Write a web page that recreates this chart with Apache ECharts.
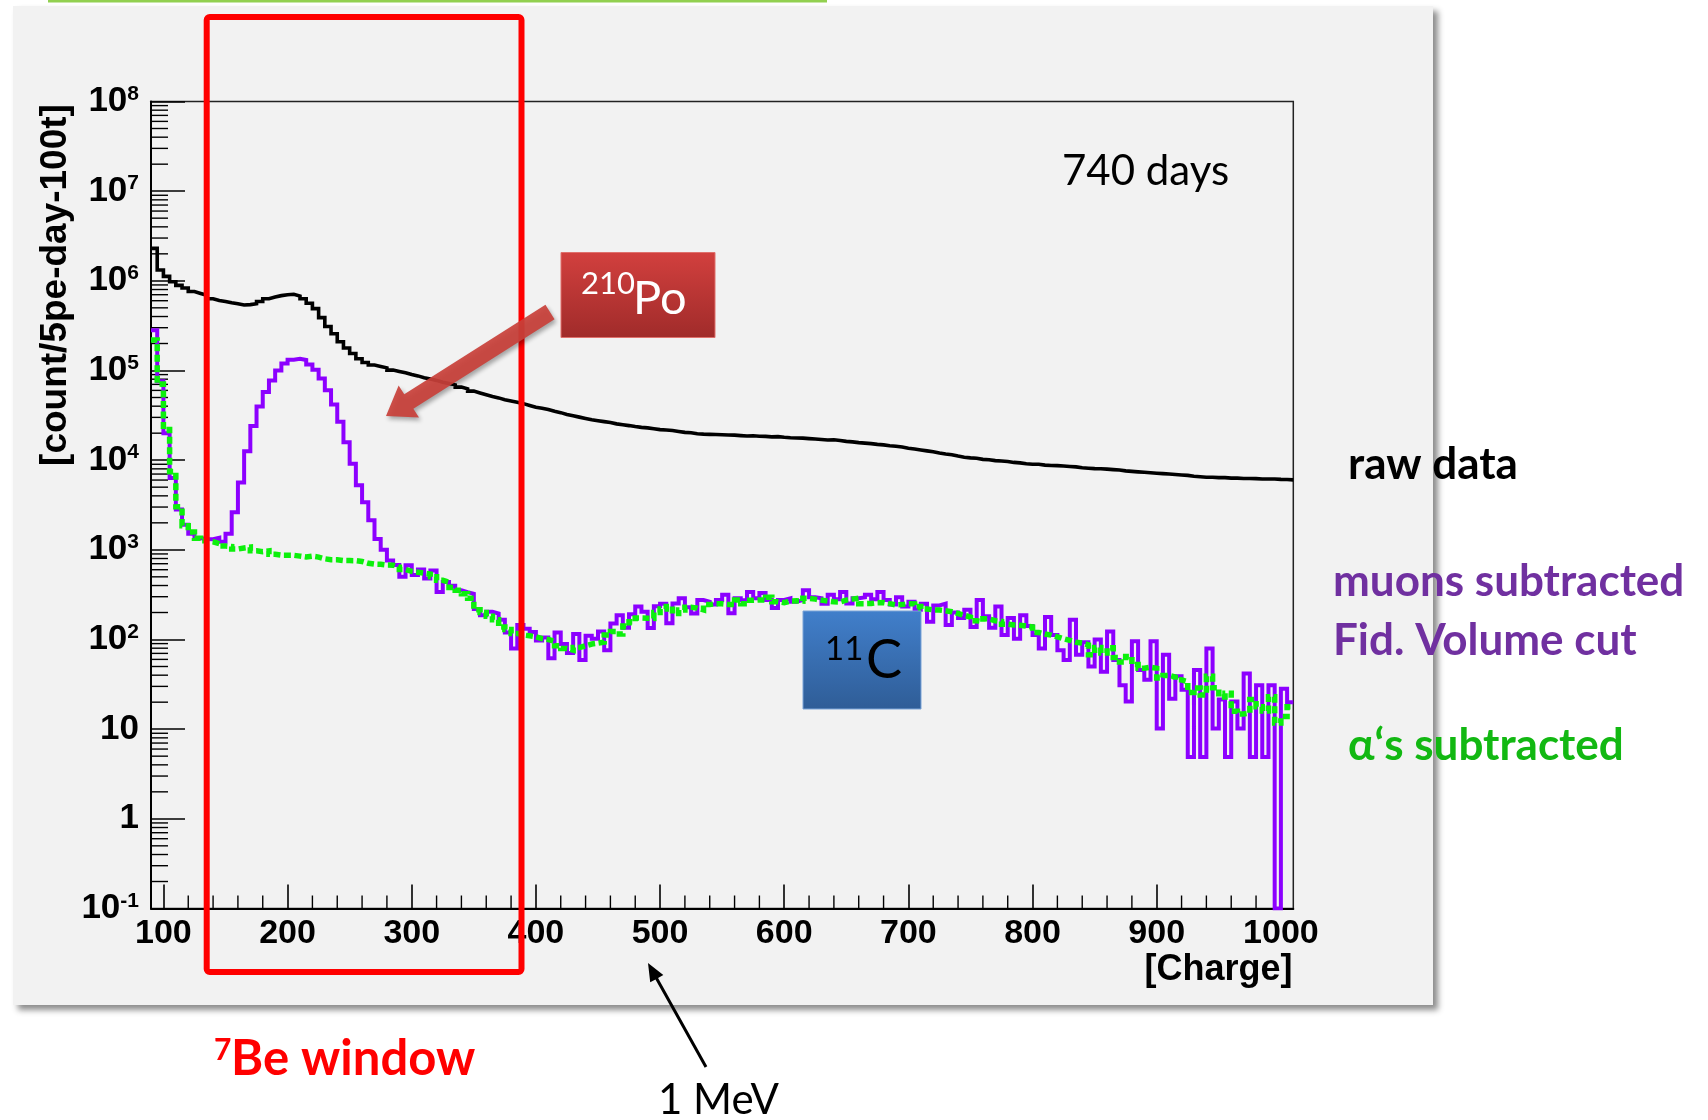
<!DOCTYPE html>
<html lang="en">
<head>
<meta charset="utf-8">
<title>Charge spectrum – 740 days</title>
<script src="https://cdn.jsdelivr.net/npm/echarts@6.0.0/dist/echarts.min.js"></script>
<style>
  html, body { margin: 0; padding: 0; background: #ffffff; }
  #chart { width: 1708px; height: 1120px; }
</style>
</head>
<body>
<div id="chart"></div>
<script>
// ---- histogram binning (charge) ----
const BIN_START = 90;   // lower edge of first bin
const BIN_WIDTH = 5;    // 5 pe per bin
const X_MIN = 90;
const X_MAX = 1010;
const Y_MIN = 0.1;
const Y_MAX = 1e8;

// ---- axis ticks ----
const xTickLabels = [100, 200, 300, 400, 500, 600, 700, 800, 900, 1000];
const xMinorStep = 20;
const yMinorMultipliers = [2, 3, 4, 5, 6, 7, 8, 9];

// ---- counts per bin [count/5pe-day-100t], one row = 50 charge units ----
const rawData = [
  2.3e6, 1.32e6, 1.12e6, 9.77e5, 8.91e5, 8.32e5, 7.59e5, 7.24e5, 6.92e5, 6.31e5,   // 90-140
  6.03e5, 5.89e5, 5.69e5, 5.56e5, 5.37e5, 5.43e5, 5.56e5, 5.89e5, 6.31e5, 6.61e5,  // 140-190
  6.84e5, 7.00e5, 7.08e5, 6.76e5, 6.31e5, 5.62e5, 4.90e5, 3.89e5, 3.09e5, 2.57e5,  // 190-240
  2.09e5, 1.78e5, 1.55e5, 1.35e5, 1.23e5, 1.15e5, 1.11e5, 1.07e5, 1.01e5, 9.77e4,  // 240-290
  9.44e4, 9.02e4, 8.71e4, 8.32e4, 8.04e4, 7.76e4, 7.41e4, 7.16e4, 6.92e4, 6.53e4,  // 290-340
  6.24e4, 5.89e4, 5.62e4, 5.37e4, 5.13e4, 4.95e4, 4.73e4, 4.57e4, 4.42e4, 4.27e4,  // 340-390
  4.07e4, 3.89e4, 3.80e4, 3.67e4, 3.51e4, 3.39e4, 3.24e4, 3.13e4, 3.02e4, 2.92e4,  // 390-440
  2.82e4, 2.75e4, 2.69e4, 2.63e4, 2.54e4, 2.48e4, 2.43e4, 2.37e4, 2.32e4, 2.29e4,  // 440-490
  2.24e4, 2.19e4, 2.17e4, 2.14e4, 2.09e4, 2.04e4, 2.02e4, 1.97e4, 1.95e4, 1.94e4,  // 490-540
  1.93e4, 1.92e4, 1.91e4, 1.90e4, 1.88e4, 1.86e4, 1.87e4, 1.85e4, 1.84e4, 1.82e4,  // 540-590
  1.83e4, 1.80e4, 1.78e4, 1.77e4, 1.76e4, 1.74e4, 1.72e4, 1.70e4, 1.68e4, 1.69e4,  // 590-640
  1.66e4, 1.62e4, 1.60e4, 1.57e4, 1.55e4, 1.53e4, 1.50e4, 1.48e4, 1.45e4, 1.43e4,  // 640-690
  1.40e4, 1.36e4, 1.33e4, 1.30e4, 1.27e4, 1.24e4, 1.20e4, 1.17e4, 1.15e4, 1.11e4,  // 690-740
  1.08e4, 1.06e4, 1.05e4, 1.02e4, 1.01e4, 9.89e3, 9.77e3, 9.66e3, 9.44e3, 9.33e3,  // 740-790
  9.12e3, 9.02e3, 9.00e3, 8.81e3, 8.71e3, 8.70e3, 8.61e3, 8.51e3, 8.41e3, 8.22e3,  // 790-840
  8.13e3, 8.04e3, 8.03e3, 7.94e3, 7.85e3, 7.76e3, 7.59e3, 7.50e3, 7.41e3, 7.33e3,  // 840-890
  7.24e3, 7.16e3, 7.08e3, 7.00e3, 6.92e3, 6.84e3, 6.76e3, 6.61e3, 6.53e3, 6.46e3,  // 890-940
  6.45e3, 6.38e3, 6.39e3, 6.31e3, 6.30e3, 6.24e3, 6.25e3, 6.23e3, 6.17e3, 6.16e3,  // 940-990
  6.17e3, 6.10e3, 6.09e3, 6.03e3                                                   // 990-1010
];

const muonsFvCut = [
  2.82e5, 7.59e4, 2.0e4, 6.31e3, 2.82e3, 1.91e3, 1.51e3, 1.35e3, 1.32e3, 1.31e3,   // 90-140
  1.36e3, 1.23e3, 1.51e3, 2.63e3, 5.62e3, 1.26e4, 2.40e4, 3.98e4, 5.75e4, 7.76e4,  // 140-190
  1.00e5, 1.20e5, 1.32e5, 1.35e5, 1.31e5, 1.17e5, 1.02e5, 8.13e4, 6.03e4, 4.17e4,  // 190-240
  2.69e4, 1.58e4, 9.12e3, 5.25e3, 3.39e3, 2.14e3, 1.32e3, 1.00e3, 759, 676,        // 240-290
  501, 675, 525, 603, 479, 589, 339, 437, 398, 355,                                // 290-340
  338, 324, 219, 186, 204, 195, 166, 120, 79.4, 145,                               // 340-390
  132, 121, 97.7, 105, 61.7, 120, 89.1, 70.8, 115, 58.9,                           // 390-440
  110, 102, 123, 75.9, 151, 186, 135, 191, 234, 204,                               // 440-490
  134, 235, 251, 152, 252, 288, 229, 195, 275, 263,                                // 490-540
  245, 276, 316, 196, 289, 274, 339, 288, 331, 275,                                // 540-590
  224, 276, 288, 263, 275, 355, 295, 289, 251, 316,                                // 590-640
  282, 339, 252, 288, 295, 316, 282, 339, 275, 245,                                // 640-690
  295, 234, 263, 214, 251, 158, 240, 251, 145, 200,                                // 690-740
  174, 214, 138, 275, 182, 135, 234, 112, 174, 102,                                // 740-790
  186, 141, 112, 79.4, 178, 112, 75.9, 58.9, 166, 67.6,                            // 790-840
  93.3, 50.1, 100, 43.7, 123, 58.9, 30.9, 20.4, 95.5, 45.7,                        // 840-890
  35.5, 95.5, 10.2, 67.6, 21.9, 38.9, 27.5, 4.9, 45.7, 4.9,                        // 890-940
  79.4, 10.2, 21.4, 4.9, 20.4, 10.2, 41.7, 4.9, 30.9, 4.9,                         // 940-990
  30.9, 0, 28.2, 20.0                                                              // 990-1010
];

const alphasSubtracted = [
  2.19e5, 7.08e4, 2.2e4, 7.41e3, 3.02e3, 1.86e3, 1.58e3, 1.35e3, 1.26e3, 1.23e3,   // 90-140
  1.17e3, 1.10e3, 1.09e3, 1.02e3, 1.05e3, 1.07e3, 977, 955, 975, 891,              // 140-190
  871, 870, 869, 851, 832, 850, 830, 794, 776, 775,                                // 190-240
  759, 758, 757, 741, 708, 692, 690, 676, 675, 646,                                // 240-290
  603, 575, 562, 550, 537, 501, 457, 437, 380, 355,                                // 290-340
  324, 288, 214, 200, 182, 166, 138, 129, 117, 112,                                // 340-390
  110, 107, 102, 100, 95.5, 85.1, 79.4, 75.9, 81.3, 85,                            // 390-440
  89.1, 91.2, 93.3, 112, 123, 115, 141, 158, 174, 173,                             // 440-490
  172, 200, 219, 234, 195, 213, 229, 224, 214, 245,                                // 490-540
  251, 250, 246, 245, 275, 251, 274, 276, 275, 295,                                // 540-590
  263, 257, 269, 270, 268, 288, 282, 275, 269, 263,                                // 590-640
  262, 275, 282, 288, 251, 252, 257, 258, 251, 243,                                // 640-690
  245, 251, 250, 234, 219, 214, 213, 209, 204, 195,                                // 690-740
  186, 178, 162, 158, 170, 162, 159, 148, 145, 144,                                // 740-790
  141, 138, 120, 115, 112, 107, 102, 97.7, 93.3, 91.2,                             // 790-840
  87.1, 67.6, 81.3, 70.8, 81, 63.1, 56.2, 64.6, 52.5, 47.9,                        // 840-890
  49.0, 47.8, 37.2, 39.8, 38.0, 35.5, 33.9, 25.7, 28.8, 24.0,                      // 890-940
  38.9, 28.9, 22.9, 25.1, 15.8, 14.8, 15.1, 21.4, 17.8, 15.9,                      // 940-990
  23, 11.7, 13.8, 17.8                                                             // 990-1010
];

// ---- helpers ----
// Step outline of a histogram: one point per lower bin edge plus the closing edge.
// Empty bins are drawn down to the floor of the log axis.
function histogramPoints(values) {
  const pts = values.map((v, i) => [BIN_START + i * BIN_WIDTH, v > 0 ? v : Y_MIN]);
  pts.push([BIN_START + values.length * BIN_WIDTH, pts[pts.length - 1][1]]);
  return pts;
}

const xMinorTicks = [];
for (let v = xTickLabels[0]; v <= xTickLabels[xTickLabels.length - 1]; v += xMinorStep) {
  if (xTickLabels.indexOf(v) < 0) xMinorTicks.push(v);
}
const yMinorTicks = [];
for (let e = Math.round(Math.log10(Y_MIN)); e < Math.round(Math.log10(Y_MAX)); e++) {
  yMinorMultipliers.forEach(m => yMinorTicks.push(m * Math.pow(10, e)));
}

function yTickLabel(value) {
  const e = Math.round(Math.log10(value));
  if (e === 0) return '{b|1}';
  if (e === 1) return '{b|10}';
  return '{b|10}{s|' + e + '}';
}

function arrowPolygon(tail, tip, halfShaft, halfHead, headLen) {
  const dx = tip[0] - tail[0], dy = tip[1] - tail[1];
  const len = Math.hypot(dx, dy);
  const ux = dx / len, uy = dy / len, nx = -uy, ny = ux;
  const bx = tip[0] - ux * headLen, by = tip[1] - uy * headLen;
  return [
    [tail[0] + nx * halfShaft, tail[1] + ny * halfShaft],
    [bx + nx * halfShaft, by + ny * halfShaft],
    [bx + nx * halfHead, by + ny * halfHead],
    [tip[0], tip[1]],
    [bx - nx * halfHead, by - ny * halfHead],
    [bx - nx * halfShaft, by - ny * halfShaft],
    [tail[0] - nx * halfShaft, tail[1] - ny * halfShaft]
  ];
}

const AXIS_FONT = 'Liberation Sans, Arial, sans-serif';
const NOTE_FONT = 'Lato, Open Sans, sans-serif';

function note(text, x, y, size, color, weight, align) {
  return {
    type: 'text', x: x, y: y, z: 120,
    style: {
      text: text, fill: color, fontFamily: NOTE_FONT, fontSize: size,
      fontWeight: weight || 'normal',
      align: align || 'left', textAlign: align || 'left',
      verticalAlign: 'middle', textVerticalAlign: 'middle'
    }
  };
}

const chart = echarts.init(document.getElementById('chart'), null, { renderer: 'canvas' });

chart.setOption({
  animation: false,
  backgroundColor: '#ffffff',
  textStyle: { fontFamily: AXIS_FONT },
  grid: {
    left: 151, top: 101.5, right: 414.7, bottom: 211.5,
    show: true, borderColor: '#222222', borderWidth: 1.5,
    backgroundColor: 'transparent',
    containLabel: false, outerBoundsMode: 'none'
  },
  xAxis: {
    type: 'value', min: X_MIN, max: X_MAX,
    axisLine: { onZero: false, lineStyle: { color: '#000', width: 2 } },
    axisTick: {
      inside: true, length: 24, customValues: xTickLabels,
      lineStyle: { color: '#000', width: 1.6 }
    },
    axisLabel: {
      customValues: xTickLabels, margin: 8, hideOverlap: false,
      formatter: v => String(v),
      fontFamily: AXIS_FONT, fontWeight: 'bold', fontSize: 34, color: '#000'
    },
    splitLine: { show: false }
  },
  yAxis: {
    type: 'log', logBase: 10, min: Y_MIN, max: Y_MAX,
    axisLine: { show: true, lineStyle: { color: '#000', width: 2 } },
    axisTick: { show: true, inside: true, length: 34, lineStyle: { color: '#000', width: 1.6 } },
    axisLabel: {
      margin: 12, showMinLabel: true, showMaxLabel: true,
      formatter: yTickLabel,
      rich: {
        b: { fontFamily: AXIS_FONT, fontWeight: 'bold', fontSize: 35, lineHeight: 36, color: '#000' },
        s: { fontFamily: AXIS_FONT, fontWeight: 'bold', fontSize: 21, lineHeight: 24, verticalAlign: 'top', color: '#000' }
      }
    },
    splitLine: { show: false }
  },
  series: [
    {
      name: 'raw data', type: 'line', step: 'end',
      data: histogramPoints(rawData),
      showSymbol: false, symbol: 'none', silent: true,
      lineStyle: { color: '#000000', width: 3.6, join: 'miter' }
    },
    {
      name: 'muons subtracted, Fid. Volume cut', type: 'line', step: 'end',
      data: histogramPoints(muonsFvCut),
      showSymbol: false, symbol: 'none', silent: true,
      lineStyle: { color: '#8C00FF', width: 4, join: 'miter' }
    },
    {
      name: 'alphas subtracted', type: 'line', step: 'end',
      data: histogramPoints(alphasSubtracted),
      showSymbol: false, symbol: 'none', silent: true,
      lineStyle: { color: '#0CF00C', width: 5.5, type: [7, 3.5], cap: 'butt', join: 'miter' }
    },
    {
      // minor ticks of the log axis (2..9 in every decade)
      type: 'custom', silent: true, z: 3,
      data: yMinorTicks.map(v => [X_MIN, v]),
      renderItem: function (params, api) {
        const p = api.coord([api.value(0), api.value(1)]);
        return {
          type: 'line',
          shape: { x1: p[0], y1: p[1], x2: p[0] + 17, y2: p[1] },
          style: { stroke: '#000', lineWidth: 1.4 }
        };
      }
    },
    {
      // minor ticks of the charge axis
      type: 'custom', silent: true, z: 3,
      data: xMinorTicks.map(v => [v, Y_MIN]),
      renderItem: function (params, api) {
        const p = api.coord([api.value(0), api.value(1)]);
        return {
          type: 'line',
          shape: { x1: p[0], y1: p[1], x2: p[0], y2: p[1] - 13 },
          style: { stroke: '#000', lineWidth: 1.4 }
        };
      }
    }
  ],
  graphic: [
    // slide panel behind the frame
    {
      type: 'rect', z: -100, silent: true,
      shape: { x: 13, y: 6, width: 1420, height: 999 },
      style: {
        fill: '#F2F2F2', shadowBlur: 6, shadowOffsetX: 5, shadowOffsetY: 5,
        shadowColor: 'rgba(0,0,0,0.45)'
      }
    },
    {
      type: 'rect', z: -99, silent: true,
      shape: { x: 48, y: 0, width: 779, height: 2.5 },
      style: { fill: '#92D050' }
    },
    // axis titles
    {
      type: 'text', x: 56, y: 285, rotation: Math.PI / 2, z: 110,
      style: {
        text: '[count/5pe-day-100t]', fill: '#000', fontFamily: AXIS_FONT,
        fontWeight: 'bold', fontSize: 37,
        align: 'center', textAlign: 'center', verticalAlign: 'middle', textVerticalAlign: 'middle'
      }
    },
    {
      type: 'text', x: 1292.5, y: 970.5, z: 110,
      style: {
        text: '[Charge]', fill: '#000', fontFamily: AXIS_FONT,
        fontWeight: 'bold', fontSize: 36,
        align: 'right', textAlign: 'right', verticalAlign: 'middle', textVerticalAlign: 'middle'
      }
    },
    // 7Be window
    {
      type: 'rect', z: 100, silent: true,
      shape: { x: 206.7, y: 17, width: 314.8, height: 955, r: 3 },
      style: { fill: 'none', stroke: '#FF0000', lineWidth: 6 }
    },
    note('7', 214, 1050, 30, '#FF0000', 'bold'),
    note('Be window', 231, 1059, 49, '#FF0000', 'bold'),
    // 210Po label and arrow
    {
      type: 'polygon', z: 105, silent: true,
      shape: { points: arrowPolygon([550, 312], [386, 416], 8.5, 19, 27) },
      style: {
        fill: '#C9403A', opacity: 0.92, shadowBlur: 4, shadowOffsetX: 2, shadowOffsetY: 3,
        shadowColor: 'rgba(0,0,0,0.35)'
      }
    },
    {
      type: 'rect', z: 110, silent: true,
      shape: { x: 561, y: 252.5, width: 154, height: 85 },
      style: {
        fill: new echarts.graphic.LinearGradient(0, 0, 0, 1, [
          { offset: 0, color: '#D2403E' }, { offset: 1, color: '#A02B2A' }
        ]),
        stroke: '#E0706C', lineWidth: 1
      }
    },
    note('210', 581, 284, 31, '#FFFFFF'),
    note('Po', 633, 299, 47, '#FFFFFF'),
    // 11C label
    {
      type: 'rect', z: 110, silent: true,
      shape: { x: 803, y: 611, width: 118, height: 98 },
      style: {
        fill: new echarts.graphic.LinearGradient(0, 0, 0, 1, [
          { offset: 0, color: '#417FCB' }, { offset: 1, color: '#2F5D97' }
        ]),
        stroke: '#7BA4D8', lineWidth: 1
      }
    },
    note('11', 825, 649, 33, '#000000'),
    note('C', 866, 661, 54, '#000000'),
    // exposure and curve names
    note('740 days', 1062, 171, 42, '#000000'),
    note('raw data', 1348, 465, 44, '#000000', 'bold'),
    note('muons subtracted', 1333, 582, 44, '#7030A0', 'bold'),
    note('Fid. Volume cut', 1333, 641, 44, '#7030A0', 'bold'),
    note('\u03B1\u2018s subtracted', 1348, 746, 44, '#12B812', 'bold'),
    // 1 MeV marker
    {
      type: 'polygon', z: 110, silent: true,
      shape: { points: arrowPolygon([706, 1067], [648, 963], 1.5, 7.5, 18) },
      style: { fill: '#000000' }
    },
    note('1 MeV', 658, 1100, 42, '#000000')
  ]
});
</script>
</body>
</html>
